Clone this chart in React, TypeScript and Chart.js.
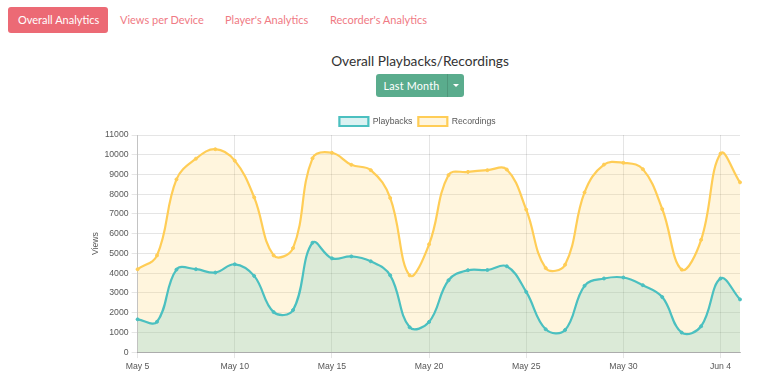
import React, { useEffect, useRef } from "react";
import { Chart, registerables } from "chart.js";

Chart.register(...registerables);

const dateLabels = [
  "May 5", "May 6", "May 7", "May 8", "May 9", "May 10", "May 11", "May 12",
  "May 13", "May 14", "May 15", "May 16", "May 17", "May 18", "May 19", "May 20",
  "May 21", "May 22", "May 23", "May 24", "May 25", "May 26", "May 27", "May 28",
  "May 29", "May 30", "May 31", "Jun 1", "Jun 2", "Jun 3", "Jun 4", "Jun 5",
];

const playbacks = [
  1660, 1540, 4180, 4200, 4030, 4450, 3860, 2030,
  2130, 5540, 4750, 4850, 4600, 3890, 1260, 1530,
  3640, 4150, 4160, 4350, 3050, 1160, 1120, 3360,
  3730, 3780, 3390, 2790, 990, 1310, 3730, 2670,
];

const recordings = [
  4200, 4900, 8750, 9800, 10280, 9700, 7840, 4900,
  5270, 9820, 10100, 9490, 9220, 7810, 3890, 5460,
  8970, 9130, 9220, 9250, 7220, 4260, 4430, 8090,
  9500, 9590, 9270, 7250, 4180, 5690, 10060, 8600,
];

const tabs = ["Overall Analytics", "Views per Device", "Player's Analytics", "Recorder's Analytics"];
const tabX = [18, 120, 225, 330];

const FONT = "'Liberation Sans', Arial, Helvetica, sans-serif";
const UI_FONT = "Lato, 'Noto Sans', sans-serif";
const FS = 8.7;
const TXT = "#585858";

const legendGap = {
  id: "legendGap",
  beforeInit(chart: any) {
    const lg = chart.legend;
    if (!lg) return;
    const orig = lg.fit;
    lg.fit = function (this: any) {
      orig.call(this);
      this.height -= 1;
    };
  },
  afterLayout(chart: any) {
    const lg = chart.legend;
    if (!lg) return;
    lg.left += 6;
    lg.right += 6;
  },
};

export default function App() {
  const ref = useRef<HTMLCanvasElement | null>(null);

  useEffect(() => {
    document.body.style.margin = "0";
    if (!ref.current) return;
    const chart = new Chart(ref.current, {
      type: "line",
      data: {
        labels: dateLabels,
        datasets: [
          {
            label: "Playbacks",
            data: playbacks,
            borderColor: "rgb(75,192,192)",
            backgroundColor: "rgba(75,192,192,0.2)",
            pointBackgroundColor: "rgb(75,192,192)",
            pointBorderColor: "rgb(75,192,192)",
            pointRadius: 1.5,
            pointBorderWidth: 1,
            borderWidth: 2.2,
            tension: 0.4,
            fill: "origin",
          },
          {
            label: "Recordings",
            data: recordings,
            borderColor: "rgb(255,205,86)",
            backgroundColor: "rgba(255,205,86,0.2)",
            pointBackgroundColor: "rgb(255,205,86)",
            pointBorderColor: "rgb(255,205,86)",
            pointRadius: 1.5,
            pointBorderWidth: 1,
            borderWidth: 2.2,
            tension: 0.4,
            fill: "origin",
          },
        ],
      },
      plugins: [legendGap],
      options: {
        animation: false,
        responsive: false,
        maintainAspectRatio: false,
        layout: { padding: { right: 10, left: 0, top: 0, bottom: 0 } },
        plugins: {
          legend: {
            position: "top",
            labels: {
              boxWidth: 29,
              boxHeight: 9,
              padding: 6,
              color: TXT,
              font: { family: FONT, size: FS },
            },
          },
          tooltip: { enabled: false },
        },
        scales: {
          x: {
            grid: { color: "rgba(0,0,0,0.1)", drawTicks: true, tickLength: 6 },
            border: { color: "rgba(0,0,0,0.25)" },
            ticks: {
              color: TXT,
              font: { family: FONT, size: FS },
              autoSkip: false,
              maxRotation: 0,
              callback: (_v: any, i: number) => (i % 5 === 0 ? dateLabels[i] : null),
            },
            title: { display: true, text: "Date", color: TXT, font: { family: FONT, size: FS } },
          },
          y: {
            min: 0,
            max: 11000,
            grid: { color: "rgba(0,0,0,0.1)", tickLength: 6 },
            border: { color: "rgba(0,0,0,0.15)" },
            ticks: {
              stepSize: 1000,
              color: TXT,
              font: { family: FONT, size: FS },
              callback: (v: any) => String(v),
            },
            title: {
              display: true,
              text: "Views",
              color: TXT,
              padding: { top: 7, bottom: 1 },
              font: { family: FONT, size: FS },
            },
          },
        },
      },
    });
    return () => chart.destroy();
  }, []);

  return (
    <div style={{ position: "relative", width: 768, height: 379, overflow: "hidden", background: "#fff" }}>
      <div
        style={{
          position: "absolute",
          left: 8,
          top: 7,
          width: 100,
          height: 26,
          borderRadius: 3,
          background: "#ec6a75",
        }}
      />
      {tabs.map((t, i) => (
        <div
          key={t}
          style={{
            position: "absolute",
            left: tabX[i],
            top: 7,
            height: 26,
            lineHeight: "26px",
            fontFamily: UI_FONT,
            fontSize: 11,
            color: i === 0 ? "#fff" : "#f07a84",
            whiteSpace: "nowrap",
          }}
        >
          {t}
        </div>
      ))}
      <div
        style={{
          position: "absolute",
          left: 0,
          width: 840,
          top: 52,
          textAlign: "center",
          fontFamily: UI_FONT,
          fontSize: 13.7,
          fontWeight: 400,
          color: "#333",
        }}
      >
        Overall Playbacks/Recordings
      </div>
      <div
        style={{
          position: "absolute",
          left: 376,
          top: 74,
          width: 88,
          height: 23,
          background: "#5aac8d",
          borderRadius: 3,
          display: "flex",
          fontFamily: UI_FONT,
          fontSize: 10.8,
          color: "#fff",
        }}
      >
        <div style={{ width: 71, textAlign: "center", lineHeight: "23px", letterSpacing: 0.2 }}>Last Month</div>
        <div style={{ width: 1, background: "rgba(0,0,0,0.12)" }} />
        <div style={{ flex: 1, display: "flex", alignItems: "center", justifyContent: "center" }}>
          <div
            style={{
              width: 0,
              height: 0,
              borderLeft: "3px solid transparent",
              borderRight: "3px solid transparent",
              borderTop: "3px solid #fff",
            }}
          />
        </div>
      </div>
      <canvas
        ref={ref}
        width={667}
        height={282}
        style={{ position: "absolute", left: 83, top: 111, width: 667, height: 282 }}
      />
    </div>
  );
}
